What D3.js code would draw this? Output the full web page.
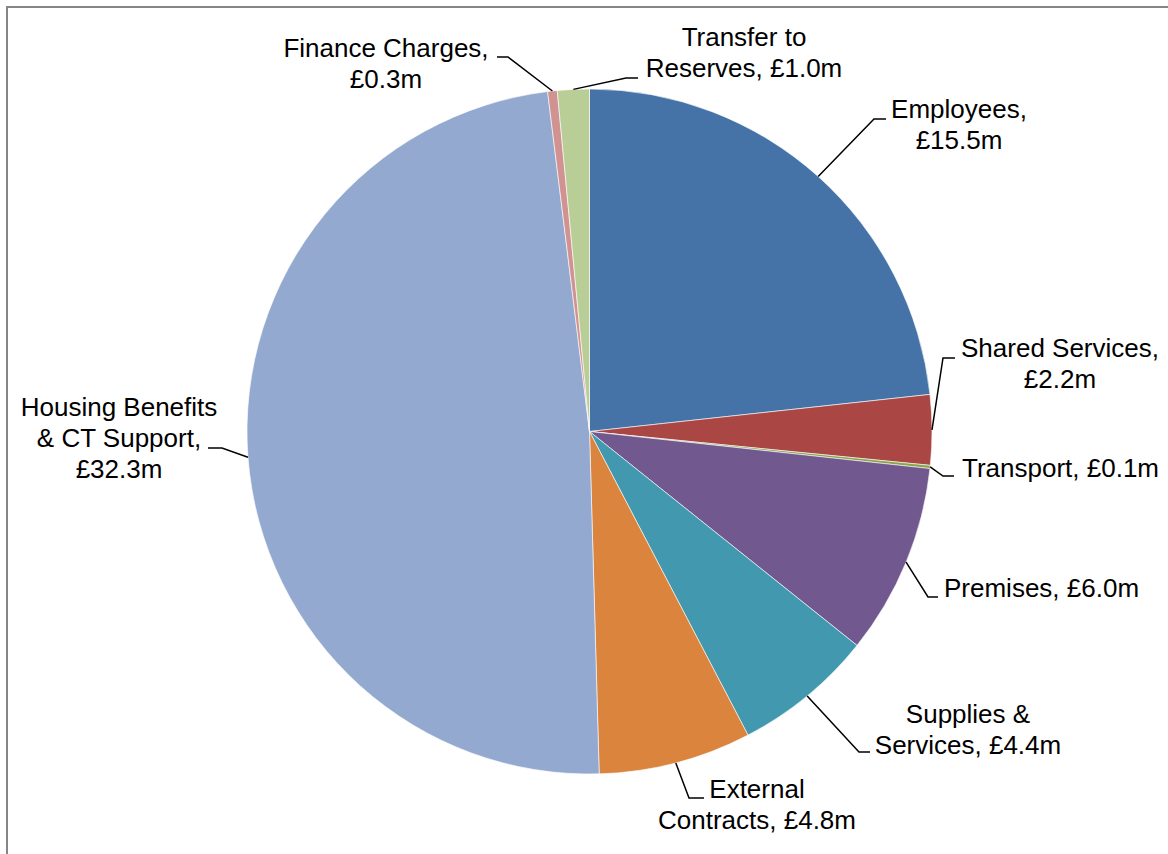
<!DOCTYPE html>
<html>
<head>
<meta charset="utf-8">
<script src="https://cdn.jsdelivr.net/npm/d3@7"></script>
<style>
  html, body { margin: 0; padding: 0; background: #ffffff; }
  svg { display: block; }
  text { font-family: "Liberation Sans", Arial, sans-serif; font-size: 26px; fill: #000; }
</style>
</head>
<body>
<svg id="chart" width="1168" height="854"></svg>
<script>
// Budget breakdown (£m), clockwise from 12 o'clock
const categories = [
  "Employees", "Shared Services", "Transport", "Premises",
  "Supplies & Services", "External Contracts",
  "Housing Benefits & CT Support", "Finance Charges", "Transfer to Reserves"
];
const values = [15.5, 2.2, 0.1, 6.0, 4.4, 4.8, 32.3, 0.3, 1.0];
const labelLines = [
  ["Employees,", "£15.5m"],
  ["Shared Services,", "£2.2m"],
  ["Transport, £0.1m"],
  ["Premises, £6.0m"],
  ["Supplies &", "Services, £4.4m"],
  ["External", "Contracts, £4.8m"],
  ["Housing Benefits", "& CT Support,", "£32.3m"],
  ["Finance Charges,", "£0.3m"],
  ["Transfer to", "Reserves, £1.0m"]
];
const colors = [
  "#4572A7", "#AA4643", "#89A54E", "#71588F", "#4198AF",
  "#DB843D", "#93A9CF", "#D19392", "#B9CD96"
];

// Label placement: text anchor point, first baseline, leader elbow and stub end
const labelLayout = [
  { x: 959,  y: 118, anchor: "middle", elbow: [874, 119], stub: [886, 119] },
  { x: 1060, y: 357, anchor: "middle", elbow: [943, 358], stub: [955, 358] },
  { x: 962,  y: 477, anchor: "start",  elbow: [943, 476], stub: [954, 476] },
  { x: 944,  y: 597, anchor: "start",  elbow: [928, 597], stub: [938, 597] },
  { x: 968,  y: 723, anchor: "middle", elbow: [859, 752], stub: [870, 752] },
  { x: 757,  y: 798, anchor: "middle", elbow: [689, 798], stub: [704, 798] },
  { x: 119,  y: 416, anchor: "middle", elbow: [222, 448], stub: [208, 448] },
  { x: 386,  y: 57,  anchor: "middle", elbow: [508, 57],  stub: [497, 57] },
  { x: 744,  y: 46,  anchor: "middle", elbow: [626, 78],  stub: [638, 78] }
];
const lineHeight = 31;

const svg = d3.select("#chart");
const cx = 589.5, cy = 431.5, radius = 342.5;

// Outer frame
svg.append("rect")
  .attr("x", 7).attr("y", 7)
  .attr("width", 1200).attr("height", 900)
  .attr("fill", "none")
  .attr("stroke", "#868686")
  .attr("stroke-width", 2);

const data = categories.map((c, i) => ({ name: c, value: values[i], i }));

const pie = d3.pie().value(d => d.value).sort(null);
const arcs = pie(data);
const arc = d3.arc().innerRadius(0).outerRadius(radius);

const g = svg.append("g").attr("transform", `translate(${cx},${cy})`);

g.selectAll("path.slice")
  .data(arcs)
  .join("path")
  .attr("class", "slice")
  .attr("d", arc)
  .attr("fill", d => colors[d.data.i])
  .attr("stroke", "#ffffff")
  .attr("stroke-width", 0.6);

// Leader lines: from the slice's mid-angle on the rim to an elbow, then a short stub
const leaders = svg.append("g");
arcs.forEach(a => {
  const mid = (a.startAngle + a.endAngle) / 2;
  const px = cx + radius * Math.sin(mid);
  const py = cy - radius * Math.cos(mid);
  const L = labelLayout[a.data.i];
  leaders.append("polyline")
    .attr("points", [[px, py], L.elbow, L.stub].map(p => p.join(",")).join(" "))
    .attr("fill", "none")
    .attr("stroke", "#000")
    .attr("stroke-width", 1.5);
});

// Labels
const labels = svg.append("g");
arcs.forEach(a => {
  const L = labelLayout[a.data.i];
  const t = labels.append("text")
    .attr("text-anchor", L.anchor)
    .attr("x", L.x)
    .attr("y", L.y);
  labelLines[a.data.i].forEach((line, k) => {
    t.append("tspan")
      .attr("x", L.x)
      .attr("y", L.y + k * lineHeight)
      .text(line);
  });
});
</script>
</body>
</html>
